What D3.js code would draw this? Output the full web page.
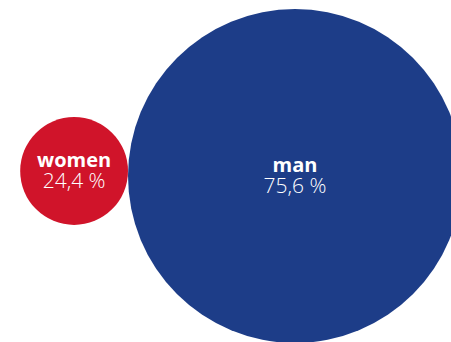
<!DOCTYPE html>
<html>
<head>
<meta charset="utf-8">
<script src="https://cdn.jsdelivr.net/npm/d3@7"></script>
<style>
  html, body { margin: 0; padding: 0; background: #fff; }
  svg { display: block; }
  .name { font-family: "Open Sans", sans-serif; font-weight: 700; fill: #fff; }
  .value { font-family: "Open Sans", sans-serif; font-weight: 300; fill: #fff; }
</style>
</head>
<body>
<svg width="451" height="342"></svg>
<script>
// data
var labels = ["women", "man"];
var shares = [24.4, 75.6];
var colors = ["#d0142a", "#1d3d88"];

var svg = d3.select("svg"),
    width = +svg.attr("width"),
    height = +svg.attr("height");

// radius grows linearly with the share
var radius = d3.scaleLinear()
    .domain([0, d3.max(shares)])
    .range([0, 167]);

var data = labels.map(function(l, i) {
    return { label: l, value: shares[i], color: colors[i], r: radius(shares[i]) };
});

// big circle anchored, small one sits touching on its left
var bigX = 295, bigY = 176;
data[1].x = bigX; data[1].y = bigY;
data[0].x = bigX - data[1].r - data[0].r;
data[0].y = bigY - 5;

var fmt = function(v) { return d3.format(".1f")(v).replace(".", ",") + " %"; };

var g = svg.selectAll(".bubble")
    .data(data)
    .enter().append("g")
    .attr("class", "bubble")
    .attr("transform", function(d) { return "translate(" + d.x + "," + d.y + ")"; });

g.append("circle")
    .attr("r", function(d) { return d.r; })
    .attr("fill", function(d) { return d.color; });

g.append("text")
    .attr("class", "name")
    .attr("text-anchor", "middle")
    .attr("y", -4)
    .style("font-size", "20px")
    .text(function(d) { return d.label; });

g.append("text")
    .attr("class", "value")
    .attr("text-anchor", "middle")
    .attr("y", 17)
    .style("font-size", "21px")
    .text(function(d) { return fmt(d.value); });
</script>
</body>
</html>
